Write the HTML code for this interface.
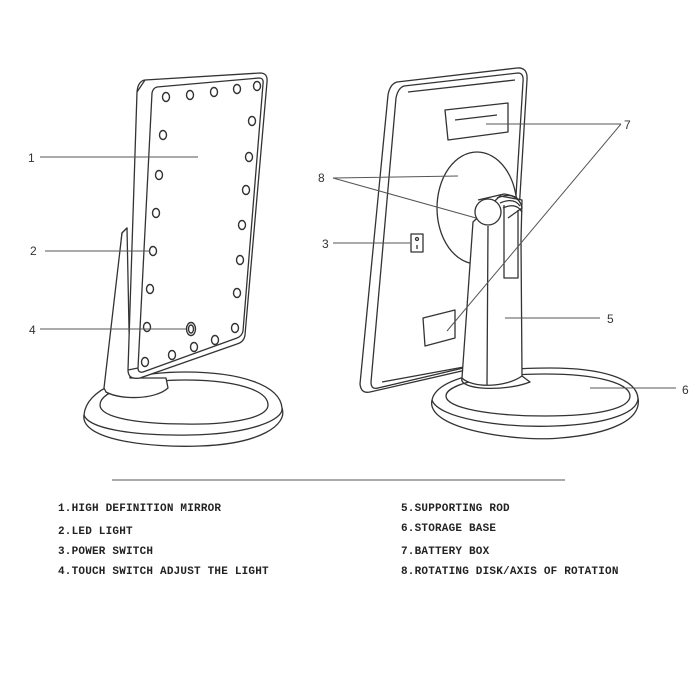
<!DOCTYPE html>
<html><head><meta charset="utf-8"><style>
html,body{margin:0;padding:0;background:#fff;}
svg{display:block}
.t{font-family:"Liberation Mono",monospace;font-weight:bold;font-size:11px;fill:#222;letter-spacing:0.2px}
.n{font-family:"Liberation Sans",sans-serif;font-size:12px;fill:#333}
</style></head><body>
<svg width="700" height="700" viewBox="0 0 700 700" xmlns="http://www.w3.org/2000/svg">
<g fill="none" stroke="#333" stroke-width="1.3" stroke-linejoin="round">
<!-- LEFT MIRROR -->
<!-- base -->
<path d="M84,415 C80,440 150,448 200,446 C260,444 288,425 282,408 C280,385 240,372 185,372 C125,372 86,390 84,415 Z" fill="#fff"/>
<path d="M84,415 C88,428 130,436 190,435 C250,434 284,420 282,408"/>
<path d="M100,405 C100,390 140,380 185,380 C235,380 268,390 268,405 C268,418 230,425 185,424 C140,424 100,418 100,405"/>
<!-- stand -->
<path d="M122,233 L127,228 L112,388 L106,392 Z" fill="#fff"/>
<path d="M106,392 C120,400 155,400 168,388 L166,378 L130,378 L127,228 L122,233 L104,388 Z" fill="#fff"/>
<!-- frame -->
<path d="M145,80 L260,73 Q268,73 267,82 L245,335 Q244,342 237,344 L140,378 Q128,380 128,370 L137,92 Q138,81 145,80 Z" fill="#fff"/>
<path d="M157,87 L259,78 Q264,78 263,84 L243,331 Q242,336 237,338 L143,372 Q138,373 138,368 L152,93 Q153,88 157,87 Z"/>
<path d="M137,92 L145,80 M128,370 L138,368"/>
<g stroke-width="1.4">
<ellipse cx="166" cy="97" rx="3.5" ry="4.5"/><ellipse cx="190" cy="95" rx="3.5" ry="4.5"/><ellipse cx="214" cy="92" rx="3.5" ry="4.5"/><ellipse cx="237" cy="89" rx="3.5" ry="4.5"/><ellipse cx="257" cy="86" rx="3.5" ry="4.5"/>
<ellipse cx="163" cy="135" rx="3.5" ry="4.5"/><ellipse cx="159" cy="175" rx="3.5" ry="4.5"/><ellipse cx="156" cy="213" rx="3.5" ry="4.5"/><ellipse cx="153" cy="251" rx="3.5" ry="4.5"/><ellipse cx="150" cy="289" rx="3.5" ry="4.5"/><ellipse cx="147" cy="327" rx="3.5" ry="4.5"/><ellipse cx="145" cy="362" rx="3.5" ry="4.5"/>
<ellipse cx="252" cy="121" rx="3.5" ry="4.5"/><ellipse cx="249" cy="157" rx="3.5" ry="4.5"/><ellipse cx="246" cy="190" rx="3.5" ry="4.5"/><ellipse cx="242" cy="225" rx="3.5" ry="4.5"/><ellipse cx="240" cy="260" rx="3.5" ry="4.5"/><ellipse cx="237" cy="293" rx="3.5" ry="4.5"/><ellipse cx="235" cy="328" rx="3.5" ry="4.5"/>
<ellipse cx="172" cy="355" rx="3.5" ry="4.5"/><ellipse cx="194" cy="347" rx="3.5" ry="4.5"/><ellipse cx="215" cy="340" rx="3.5" ry="4.5"/>
<ellipse cx="191" cy="329" rx="4.5" ry="6.5"/><ellipse cx="191" cy="329" rx="2.5" ry="4"/>
</g>
<!-- RIGHT MIRROR -->
<path d="M397,82 L517,68 Q528,67 527,80 L510,360 L370,392 Q361,394 360,384 L388,95 Q390,84 397,82 Z" fill="#fff"/>
<path d="M404,86 L518,73 Q524,73 523,82 L506,358 L378,388 Q371,390 371,382 L396,98 Q398,88 404,86 Z"/>
<path d="M408,92 L515,80 M502,360 L382,382"/>
<path d="M445,110 L508,103 L508,132 L448,140 Z"/>
<path d="M455,120 L497,115"/>
<rect x="411" y="234" width="12" height="18"/>
<circle cx="417" cy="239" r="1.5"/><path d="M417,245 L417,249"/>
<path d="M423,318 L455,310 L455,338 L425,346 Z" fill="#fff"/>
<ellipse cx="477" cy="208" rx="40" ry="56" fill="#fff"/>
<!-- base -->
<path d="M432,400 C425,430 520,442 560,438 C610,434 642,420 638,398 C636,378 600,368 550,368 C480,368 436,380 432,400 Z" fill="#fff"/>
<path d="M432,400 C438,418 500,428 555,426 C610,424 638,412 638,398"/>
<path d="M446,396 C446,384 490,374 545,374 C600,374 630,384 630,396 C630,408 600,416 545,416 C490,416 446,408 446,396 Z"/>
<!-- rod -->
<path d="M473,222 L462,378 C472,388 505,388 522,376 L521,240 L522,200 L500,196 Z" fill="#fff"/>
<path d="M462,378 C458,390 505,392 530,382 L522,376"/>
<path d="M488,226 L487,385"/>
<path d="M504,205 L504,278 L518,278 L518,210"/>
<path d="M478,200 L504,194 Q520,196 522,208 L508,218"/>
<path d="M497,198 Q512,192 519,200 M500,203 Q514,197 520,206 M503,208 Q516,202 522,212"/>
<circle cx="488" cy="212" r="13" fill="#fff"/>
</g>
<!-- leader lines -->
<g stroke="#555" stroke-width="1">
<path d="M40,157 L198,157"/><path d="M45,251 L150,251"/><path d="M40,329 L186,329"/>
<path d="M333,243 L410,243"/>
<path d="M333,178 L458,176 M333,178 L476,218"/>
<path d="M621,124 L486,124 M621,124 L447,331"/>
<path d="M505,318 L600,318"/>
<path d="M590,388 L676,388"/>
<path d="M112,480 L565,480"/>
</g>
<text class="n" x="28" y="162">1</text>
<text class="n" x="30" y="255">2</text>
<text class="n" x="29" y="334">4</text>
<text class="n" x="322" y="248">3</text>
<text class="n" x="318" y="182">8</text>
<text class="n" x="624" y="129">7</text>
<text class="n" x="607" y="323">5</text>
<text class="n" x="682" y="394">6</text>
<text class="t" x="58" y="511">1.HIGH DEFINITION MIRROR</text>
<text class="t" x="58" y="534">2.LED LIGHT</text>
<text class="t" x="58" y="554">3.POWER SWITCH</text>
<text class="t" x="58" y="574">4.TOUCH SWITCH ADJUST THE LIGHT</text>
<text class="t" x="401" y="511">5.SUPPORTING ROD</text>
<text class="t" x="401" y="531">6.STORAGE BASE</text>
<text class="t" x="401" y="554">7.BATTERY BOX</text>
<text class="t" x="401" y="574">8.ROTATING DISK/AXIS OF ROTATION</text>
</svg>
</body></html>
